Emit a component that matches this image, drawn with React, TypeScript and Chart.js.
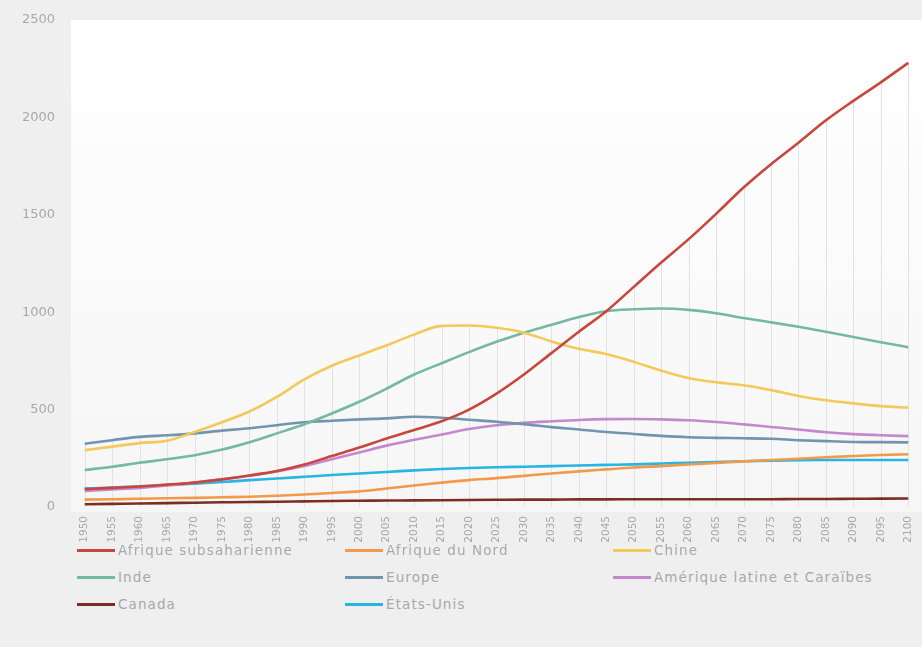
import React, { useEffect, useRef } from "react";
import { Chart, registerables } from "chart.js";

Chart.register(...registerables);

const years = [
  "1950", "1955", "1960", "1965", "1970", "1975", "1980", "1985", "1990", "1995",
  "2000", "2005", "2010", "2015", "2020", "2025", "2030", "2035", "2040", "2045",
  "2050", "2055", "2060", "2065", "2070", "2075", "2080", "2085", "2090", "2095", "2100",
];

const afriqueSubsaharienne = [92, 98, 105, 115, 125, 142, 162, 185, 218, 262, 305, 352, 395, 440, 500, 582, 680, 790, 900, 1005, 1130, 1255, 1375, 1505, 1640, 1760, 1870, 1985, 2085, 2180, 2280];
const afriqueDuNord = [38, 40, 42, 45, 47, 50, 53, 58, 64, 72, 80, 95, 110, 125, 138, 148, 160, 172, 183, 193, 203, 210, 218, 226, 234, 241, 248, 255, 262, 267, 271];
const chine = [292, 310, 328, 340, 385, 435, 490, 565, 655, 725, 778, 830, 885, 930, 932, 920, 895, 850, 812, 785, 745, 700, 662, 640, 625, 600, 570, 548, 532, 518, 510];
const inde = [190, 207, 227, 245, 266, 295, 333, 378, 425, 480, 540, 608, 680, 738, 795, 848, 895, 935, 975, 1005, 1015, 1019, 1012, 995, 970, 948, 925, 900, 873, 846, 820];
const europe = [325, 343, 360, 368, 378, 392, 404, 420, 435, 443, 450, 455, 463, 458, 448, 438, 425, 410, 398, 385, 375, 365, 358, 355, 353, 350, 343, 338, 334, 333, 332];
const ameriqueLatine = [82, 90, 98, 110, 125, 142, 160, 182, 210, 245, 280, 315, 345, 372, 400, 420, 432, 440, 447, 451, 452, 450, 445, 436, 424, 411, 398, 384, 374, 368, 364];
const canada = [14, 16, 18, 20, 22, 24, 26, 27, 29, 31, 32, 33, 34, 35, 36, 37, 38, 38, 39, 39, 40, 40, 40, 40, 40, 40, 41, 41, 42, 43, 44];
const etatsUnis = [95, 100, 106, 113, 120, 128, 138, 146, 155, 164, 172, 180, 188, 195, 200, 204, 207, 210, 213, 216, 219, 223, 227, 231, 235, 238, 240, 241, 241, 241, 241];

const yTicks = [0, 500, 1000, 1500, 2000, 2500];

const seriesNames = [
  "Afrique subsaharienne",
  "Afrique du Nord",
  "Chine",
  "Inde",
  "Europe",
  "Amérique latine et Caraïbes",
  "Canada",
  "États-Unis",
];
const seriesColors = ["#c9463d", "#f2994a", "#f3c95a", "#74b9a1", "#7394ad", "#c488cc", "#7b2e24", "#27b5e3"];
const seriesData = [afriqueSubsaharienne, afriqueDuNord, chine, inde, europe, ameriqueLatine, canada, etatsUnis];

const FONT = "'DejaVu Sans', sans-serif";
const TEXT_COLOR = "#a8a8a8";

const plotBg = {
  id: "plotBg",
  beforeDraw(chart: any) {
    const { ctx, chartArea } = chart;
    const g = ctx.createLinearGradient(0, chartArea.top, 0, chartArea.bottom);
    g.addColorStop(0, "#ffffff");
    g.addColorStop(1, "#f6f6f6");
    ctx.save();
    ctx.fillStyle = g;
    ctx.fillRect(chartArea.left, chartArea.top, chartArea.right - chartArea.left, chartArea.bottom - chartArea.top + 5);
    ctx.restore();
  },
};

const dropLines = {
  id: "dropLines",
  beforeDatasetsDraw(chart: any) {
    const { ctx, chartArea, scales } = chart;
    const n = chart.data.labels.length;
    ctx.save();
    ctx.strokeStyle = "#e2e2e2";
    ctx.lineWidth = 1;
    for (let i = 0; i < n; i++) {
      let m = 0;
      chart.data.datasets.forEach((ds: any) => {
        m = Math.max(m, ds.data[i]);
      });
      const px = Math.round(scales.x.getPixelForValue(i)) + 0.5;
      ctx.beginPath();
      ctx.moveTo(px, scales.y.getPixelForValue(m));
      ctx.lineTo(px, chartArea.bottom);
      ctx.stroke();
    }
    ctx.restore();
  },
};

const yLabels = {
  id: "yLabels",
  afterDraw(chart: any) {
    const { ctx, chartArea, scales } = chart;
    ctx.save();
    ctx.font = `13px ${FONT}`;
    ctx.fillStyle = TEXT_COLOR;
    ctx.textBaseline = "middle";
    ctx.textAlign = "right";
    scales.y.ticks.forEach((t: any) => {
      ctx.fillText(String(t.value), chartArea.left - 16, scales.y.getPixelForValue(t.value));
    });
    ctx.restore();
  },
};

export default function App() {
  const ref = useRef<HTMLCanvasElement | null>(null);

  useEffect(() => {
    if (!ref.current) return;
    const chart = new Chart(ref.current, {
      type: "line",
      data: {
        labels: years,
        datasets: seriesNames.map((name, i) => ({
          label: name,
          data: seriesData[i],
          borderColor: seriesColors[i],
          backgroundColor: seriesColors[i],
          borderWidth: 2.6,
          pointRadius: 0,
          cubicInterpolationMode: "monotone" as const,
          fill: false,
        })),
      },
      options: {
        responsive: false,
        animation: false,
        layout: { padding: { top: 20, left: 0, right: 0, bottom: 0 } },
        plugins: {
          legend: { display: false },
          tooltip: { enabled: false },
        },
        scales: {
          x: {
            offset: true,
            grid: { display: false, drawTicks: false },
            border: { display: false },
            ticks: {
              autoSkip: false,
              minRotation: 90,
              maxRotation: 90,
              padding: 9,
              color: TEXT_COLOR,
              font: { family: FONT, size: 10.5 },
            },
            afterFit(scale: any) {
              scale.height = 41;
              scale.paddingLeft = 0;
              scale.paddingRight = 0;
            },
          },
          y: {
            min: 0,
            max: 2500,
            grid: { display: false, drawTicks: false },
            border: { display: false },
            afterBuildTicks(scale: any) {
              scale.ticks = yTicks.map((v) => ({ value: v }));
            },
            ticks: { display: false },
            afterFit(scale: any) {
              scale.width = 71;
            },
          },
        },
      },
      plugins: [plotBg, dropLines, yLabels],
    });
    return () => chart.destroy();
  }, []);

  const colX = [77, 345, 613];
  const rowY = [550, 577, 604];

  return (
    <div
      style={{
        position: "fixed",
        left: 0,
        top: 0,
        width: 922,
        height: 647,
        background: "#efefef",
        overflow: "hidden",
      }}
    >
      <canvas ref={ref} width={922} height={548} style={{ position: "absolute", left: 0, top: 0 }} />
      {seriesNames.map((name, i) => {
        const col = i % 3;
        const row = Math.floor(i / 3);
        return (
          <div
            key={name}
            style={{
              position: "absolute",
              left: colX[col],
              top: rowY[row] - 10,
              height: 20,
              display: "flex",
              alignItems: "center",
              fontFamily: FONT,
              fontSize: 13.5,
              letterSpacing: "1.1px",
              color: TEXT_COLOR,
              whiteSpace: "nowrap",
            }}
          >
            <span
              style={{
                display: "inline-block",
                width: 38,
                height: 3,
                background: seriesColors[i],
                marginRight: 3,
              }}
            />
            <span>{name}</span>
          </div>
        );
      })}
    </div>
  );
}
